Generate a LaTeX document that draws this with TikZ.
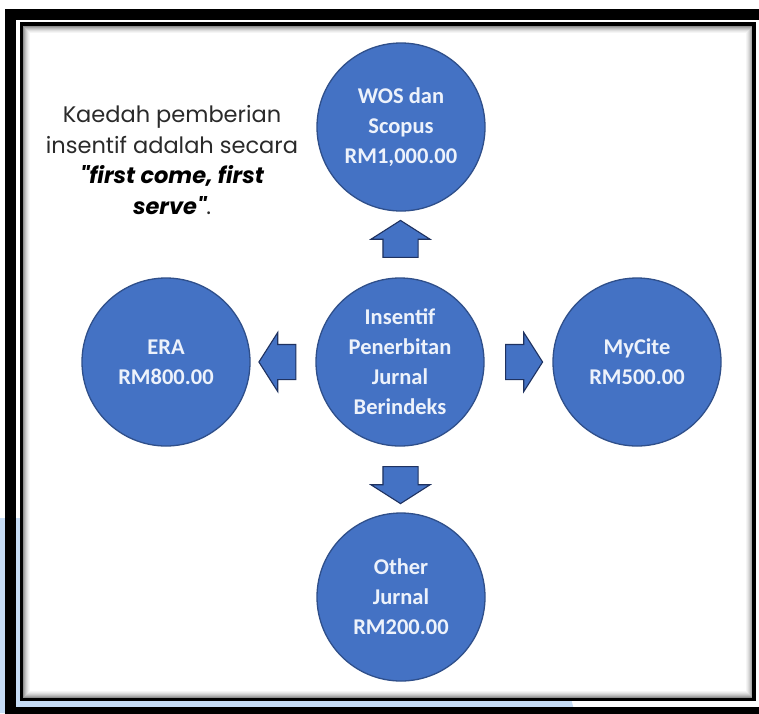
\documentclass[tikz,border=0pt]{standalone}
\usepackage{fontspec}
\usepackage{tikz}
\usetikzlibrary{shapes.arrows,calc}

\newfontfamily\carlito{Carlito}
\newfontfamily\poppins{Poppins}

\definecolor{bubbleblue}{HTML}{4472C4}
\definecolor{bubbleline}{HTML}{2F4F8A}
\definecolor{arrowline}{HTML}{1F3260}
\definecolor{bubbletext}{HTML}{EDF2FB}
\definecolor{paleblue}{HTML}{C6DDF6}
\definecolor{notegray}{HTML}{2A2A2A}

\begin{document}
\begin{tikzpicture}[x=1pt,y=-1pt,
    bubble/.style={circle, draw=bubbleline, fill=bubbleblue, line width=1.3pt, minimum size=168pt, inner sep=0pt,
        text=bubbletext, align=center, font=\carlito\bfseries\fontsize{22.5}{30}\selectfont},
    fatarrow/.style={single arrow, draw=arrowline, fill=bubbleblue, line width=1.1pt, minimum height=37pt,
        minimum width=58pt, single arrow head extend=12pt, single arrow tip angle=115, inner xsep=0pt, inner ysep=17pt},
    upright/.style={inner xsep=17pt, inner ysep=0pt},
    note/.style={align=center, text=notegray, font=\poppins\fontsize{22.5}{30.5}\selectfont}
]
\useasboundingbox (0,0) rectangle (759,713);

% frame
\fill[paleblue] (0,518) -- (520,518) -- (575,713) -- (0,713) -- cycle;
\draw[line width=11pt] (10.5,14.5) rectangle (765,712.5);
\fill[white] (21.5,24) rectangle (754,699.5);
\foreach \i/\g in {1/55,2/44,3/34,4/26,5/19,6/13,7/8,8/4}
    \draw[black!\g, line width=1pt] (21.5+\i,24+\i) rectangle (754-\i,699.5-\i);
\draw[line width=3.5pt] (21.5,24) rectangle (754,699.5);

% circles
\node[bubble] (centre) at (400,362) {Insentif\\Penerbitan\\Jurnal\\Berindeks};
\node[bubble] (wos) at (401,127) {WOS dan\\Scopus\\RM1,000.00};
\node[bubble] (era) at (166,362) {ERA\\RM800.00};
\node[bubble] (mycite) at (637,362) {MyCite\\RM500.00};
\node[bubble] (other) at (401,597) {Other\\Jurnal\\RM200.00};

% block arrows
\node[fatarrow, upright, shape border rotate=90] (towos) at ($(centre)!0.5!(wos)$) {};
\node[fatarrow, shape border rotate=180] (toera) at ($(centre)!0.5!(era)$) {};
\node[fatarrow] (tomycite) at ($(centre)!0.5!(mycite)$) {};
\node[fatarrow, upright, shape border rotate=270] (toother) at ($(centre)!0.5!(other)$) {};

\node[note] (rule) at (172,160) {Kaedah pemberian\\insentif adalah secara\\
    \textcolor{black}{\bfseries\itshape "first come, first}\\
    \textcolor{black}{\bfseries\itshape serve"}.};
\end{tikzpicture}
\end{document}
